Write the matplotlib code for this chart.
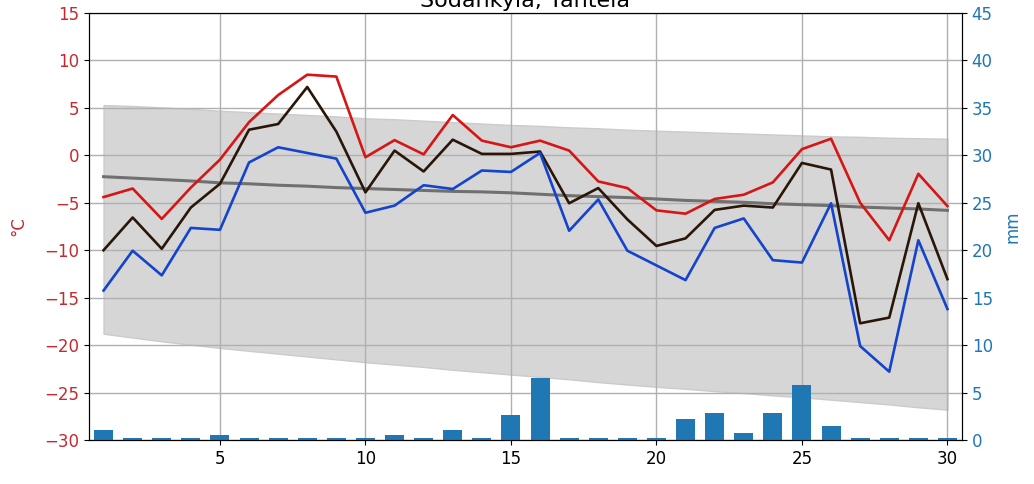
import numpy as np
import matplotlib
matplotlib.use('Agg')
import matplotlib.pyplot as plt

# Daily data, Sodankylä Tähtelä
days = list(range(1, 31))

t_max = [-4.4, -3.5, -6.7, -3.4, -0.45, 3.5, 6.35, 8.5, 8.3, -0.2,
         1.6, 0.1, 4.25, 1.55, 0.85, 1.55, 0.5, -2.75, -3.45, -5.8,
         -6.15, -4.6, -4.15, -2.85, 0.65, 1.75, -5.0, -8.95, -1.95, -5.35]
t_mean = [-10.0, -6.55, -9.85, -5.5, -3.0, 2.7, 3.3, 7.2, 2.5, -3.9,
          0.5, -1.7, 1.65, 0.15, 0.15, 0.4, -5.05, -3.45, -6.75, -9.55,
          -8.75, -5.75, -5.3, -5.5, -0.8, -1.5, -17.7, -17.1, -5.05, -13.05]
t_min = [-14.25, -10.05, -12.65, -7.65, -7.85, -0.75, 0.85, 0.25, -0.35, -6.05,
         -5.3, -3.15, -3.55, -1.6, -1.75, 0.25, -7.95, -4.65, -10.05, -11.6,
         -13.15, -7.65, -6.65, -11.05, -11.3, -5.05, -20.1, -22.8, -8.95, -16.2]

# climatology: normal mean and range
norm_mean = [-2.25, -2.4, -2.55, -2.7, -2.9, -3.0, -3.15, -3.25, -3.4, -3.5,
             -3.6, -3.7, -3.8, -3.85, -3.95, -4.1, -4.25, -4.35, -4.45, -4.6,
             -4.75, -4.85, -4.95, -5.1, -5.2, -5.3, -5.45, -5.55, -5.65, -5.8]
norm_hi = [5.3, 5.2, 5.05, 4.9, 4.7, 4.55, 4.4, 4.25, 4.1, 3.9,
           3.8, 3.65, 3.5, 3.35, 3.2, 3.1, 2.95, 2.85, 2.7, 2.6,
           2.5, 2.4, 2.3, 2.2, 2.1, 2.0, 1.95, 1.85, 1.8, 1.75]
norm_lo = [-18.8, -19.2, -19.6, -19.95, -20.3, -20.6, -20.9, -21.2, -21.5, -21.8,
           -22.05, -22.3, -22.6, -22.85, -23.1, -23.35, -23.6, -23.9, -24.15, -24.4,
           -24.6, -24.85, -25.05, -25.3, -25.5, -25.75, -26.0, -26.25, -26.55, -26.8]

# precipitation (mm)
precip = [1.05, 0.2, 0.2, 0.2, 0.55, 0.2, 0.2, 0.2, 0.2, 0.2,
          0.55, 0.2, 1.05, 0.2, 2.6, 6.5, 0.2, 0.2, 0.2, 0.2,
          2.25, 2.85, 0.75, 2.85, 5.8, 1.45, 0.2, 0.2, 0.2, 0.2]

red_txt = '#c42a2e'
blue_txt = '#1f77b4'

plt.rcParams['font.size'] = 12

fig = plt.figure(figsize=(10.34, 4.84), dpi=100)
ax1 = fig.add_axes([89 / 1034, 44 / 484, 873 / 1034, 427 / 484])

ax1.fill_between(days, norm_lo, norm_hi, color='#d6d6d6', edgecolor='#cbcbcb', linewidth=1)
ax1.plot(days, norm_mean, color='#707070', linewidth=2.2)
ax1.plot(days, t_max, color='#d71515', linewidth=1.9)
ax1.plot(days, t_mean, color='#2a1608', linewidth=1.9)
ax1.plot(days, t_min, color='#1443cc', linewidth=1.9)

ax1.set_xlim(0.5, 30.5)
ax1.set_ylim(-30, 15)
ax1.set_yticks(np.arange(-30, 16, 5))
ax1.set_xticks([5, 10, 15, 20, 25, 30])
ax1.grid(True, color='#b0b0b0', linewidth=1.0)
ax1.tick_params(axis='y', labelcolor=red_txt)
ax1.set_ylabel('°C', color=red_txt, labelpad=12)
ax1.set_title('Sodankylä, Tähtelä', fontsize=16, pad=4)

ax2 = ax1.twinx()
ax2.bar(days, precip, width=0.65, color=blue_txt)
ax2.set_ylim(0, 45)
ax2.set_yticks(np.arange(0, 46, 5))
ax2.tick_params(axis='y', labelcolor=blue_txt)
ax2.set_ylabel('mm', color=blue_txt, labelpad=8)
ax2.set_xlim(0.5, 30.5)

plt.savefig('out.png', dpi=100)
